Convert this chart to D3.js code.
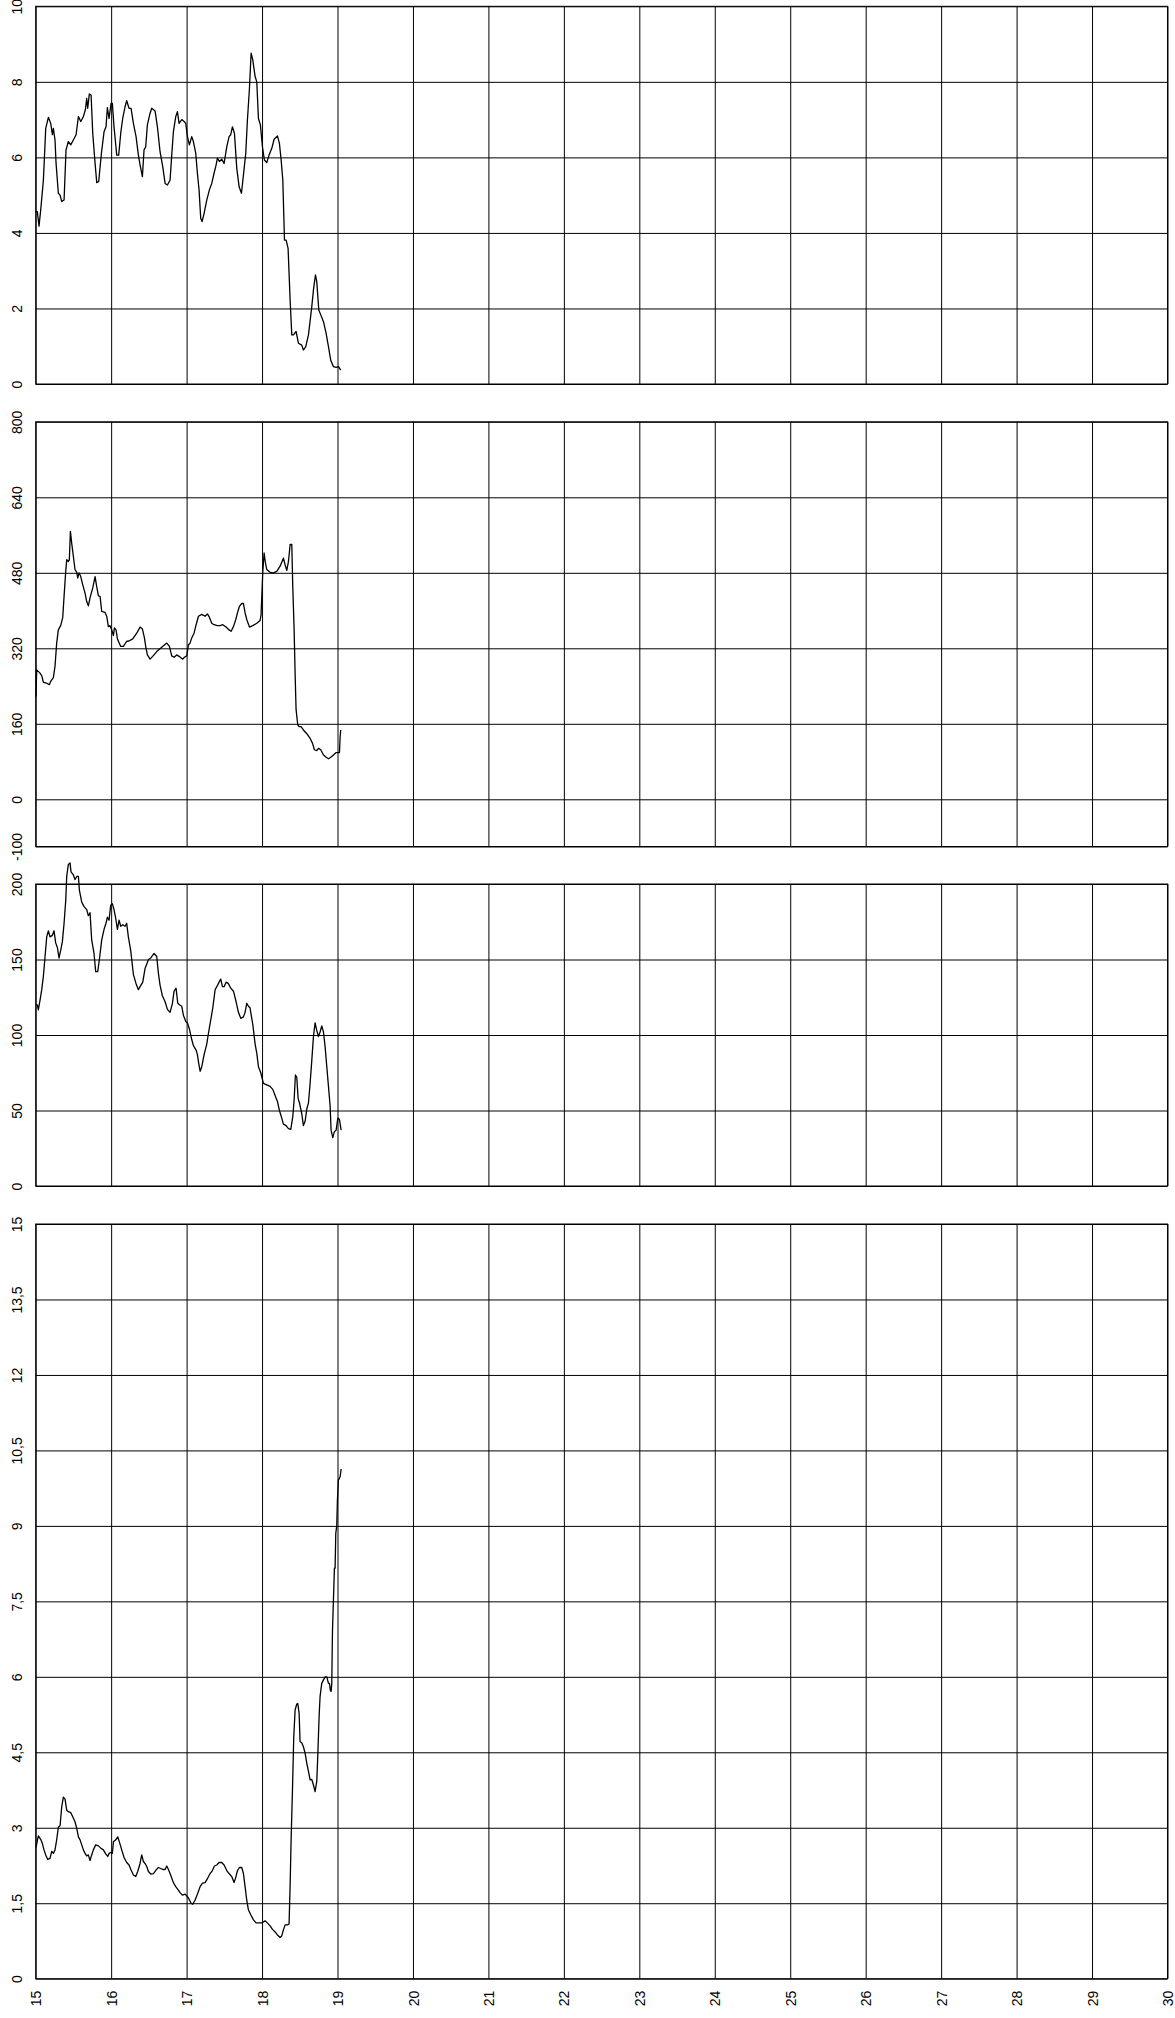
<!DOCTYPE html>
<html><head><meta charset="utf-8">
<script src="https://cdn.jsdelivr.net/npm/d3@7"></script>
<style>
body{margin:0;background:#fff}
svg{display:block}
text{font-family:"Liberation Sans",Arial,Helvetica,sans-serif;fill:#000}
</style>
</head><body>
<svg id="c" width="1175" height="2018"></svg>
<script>
// ---- tick labels ----
const xTicks = [15,16,17,18,19,20,21,22,23,24,25,26,27,28,29,30];
const ticks1 = [0,2,4,6,8,10];
const ticks2 = [-100,0,160,320,480,640,800];
const ticks3 = [0,50,100,150,200];
const ticks4 = [0,1.5,3,4.5,6,7.5,9,10.5,12,13.5,15];

// ---- series 1 ----
const x1 = [15.000,15.022,15.044,15.066,15.102,15.133,15.168,15.199,15.221,15.234,
15.256,15.270,15.300,15.323,15.345,15.376,15.402,15.433,15.464,15.499,
15.535,15.566,15.597,15.632,15.658,15.676,15.689,15.711,15.734,15.756,
15.787,15.809,15.835,15.871,15.906,15.932,15.950,15.972,15.999,16.016,
16.038,16.074,16.100,16.127,16.153,16.184,16.206,16.237,16.264,16.295,
16.330,16.361,16.383,16.414,16.436,16.458,16.480,16.516,16.538,16.582,
16.613,16.648,16.684,16.715,16.746,16.781,16.803,16.825,16.856,16.878,
16.900,16.936,16.967,16.989,17.011,17.037,17.068,17.090,17.121,17.143,
17.165,17.187,17.205,17.232,17.267,17.302,17.333,17.364,17.391,17.408,
17.435,17.466,17.497,17.532,17.563,17.585,17.607,17.634,17.665,17.696,
17.727,17.753,17.784,17.806,17.833,17.855,17.877,17.908,17.930,17.952,
17.978,18.005,18.031,18.062,18.093,18.129,18.160,18.204,18.230,18.253,
18.275,18.297,18.319,18.345,18.372,18.394,18.416,18.451,18.482,18.526,
18.548,18.579,18.615,18.659,18.681,18.708,18.725,18.752,18.778,18.814,
18.849,18.880,18.911,18.946,18.982,19.013,19.043];
const v1 = [4.56,4.56,4.18,4.6,5.4,6.77,7.06,6.9,6.6,6.77,
6.46,5.84,5.05,5.0,4.83,4.87,6.2,6.42,6.33,6.46,
6.6,7.08,6.95,7.08,7.26,7.56,7.3,7.68,7.65,6.64,
5.84,5.33,5.36,6.11,6.68,6.81,7.32,7.03,7.43,7.43,
6.81,6.06,6.06,6.64,7.03,7.34,7.5,7.3,7.3,6.9,
6.55,6.06,5.8,5.49,6.2,6.28,6.86,7.17,7.3,7.23,
6.81,6.15,5.75,5.31,5.27,5.4,6.06,6.68,7.08,7.21,
6.9,7.0,6.95,6.9,6.55,6.33,6.55,6.42,6.11,5.58,
5.14,4.39,4.3,4.52,4.87,5.14,5.31,5.58,5.8,5.98,
5.89,5.95,5.84,6.28,6.55,6.6,6.81,6.64,5.71,5.22,
5.05,5.53,6.11,6.99,7.83,8.76,8.58,8.14,8.0,7.03,
6.86,6.28,5.93,5.86,6.06,6.24,6.48,6.57,6.37,5.93,
5.4,3.81,3.81,3.59,2.22,1.3,1.3,1.39,1.08,1.03,
0.9,0.99,1.3,2.05,2.49,2.89,2.71,1.96,1.83,1.65,
1.34,0.99,0.62,0.46,0.44,0.46,0.37];

// ---- series 2 ----
const x2 = [15.004,15.013,15.049,15.080,15.102,15.146,15.181,15.199,15.234,15.256,
15.278,15.300,15.331,15.358,15.376,15.398,15.411,15.433,15.446,15.460,
15.477,15.499,15.521,15.544,15.557,15.574,15.597,15.623,15.654,15.676,
15.698,15.720,15.756,15.787,15.809,15.831,15.853,15.875,15.919,15.941,
15.963,15.985,16.008,16.030,16.043,16.065,16.083,16.105,16.127,16.162,
16.206,16.228,16.286,16.339,16.383,16.414,16.441,16.458,16.480,16.516,
16.551,16.604,16.670,16.737,16.772,16.803,16.834,16.869,16.900,16.949,
16.971,17.002,17.024,17.046,17.068,17.099,17.126,17.157,17.201,17.245,
17.276,17.302,17.333,17.364,17.408,17.444,17.479,17.523,17.563,17.590,
17.621,17.652,17.674,17.700,17.731,17.753,17.775,17.797,17.833,17.877,
17.930,17.974,17.987,18.009,18.027,18.045,18.062,18.106,18.151,18.195,
18.239,18.283,18.305,18.328,18.350,18.372,18.394,18.407,18.425,18.438,
18.451,18.473,18.491,18.517,18.548,18.593,18.637,18.668,18.694,18.725,
18.747,18.778,18.814,18.849,18.880,18.911,18.946,18.982,19.026,19.035,
19.043];
const v2 = [218,274,269,262,248,246,243,250,258,282,
331,359,368,385,430,483,508,504,508,568,
543,515,487,481,469,480,472,455,437,419,
410,427,448,472,450,431,430,398,396,388,
366,368,359,347,363,359,340,332,324,324,
335,335,340,352,365,361,342,324,306,297,
303,313,322,331,324,304,301,306,303,297,
301,304,327,331,342,352,370,388,392,388,
393,386,373,370,368,368,370,365,359,356,
366,381,395,409,415,415,395,381,365,368,
373,379,391,480,522,501,487,481,480,483,
494,511,497,485,504,540,540,451,359,267,
190,158,154,154,147,139,129,119,105,103,
108,105,94,89,86,89,94,99,99,133,
147];

// ---- series 3 ----
const x3 = [15.004,15.022,15.035,15.057,15.080,15.102,15.124,15.146,15.168,15.190,
15.221,15.243,15.265,15.287,15.309,15.331,15.354,15.376,15.398,15.411,
15.433,15.455,15.468,15.499,15.521,15.544,15.566,15.579,15.610,15.641,
15.676,15.698,15.720,15.742,15.773,15.795,15.822,15.844,15.875,15.906,
15.932,15.950,15.972,15.994,16.016,16.038,16.061,16.083,16.105,16.127,
16.153,16.184,16.206,16.228,16.259,16.295,16.330,16.361,16.383,16.419,
16.449,16.472,16.494,16.525,16.569,16.604,16.626,16.648,16.679,16.715,
16.746,16.781,16.812,16.834,16.860,16.883,16.905,16.936,16.958,16.989,
17.011,17.037,17.068,17.090,17.126,17.143,17.161,17.179,17.201,17.232,
17.267,17.289,17.320,17.347,17.378,17.400,17.431,17.453,17.475,17.497,
17.523,17.554,17.585,17.621,17.656,17.687,17.718,17.753,17.775,17.797,
17.819,17.841,17.850,17.877,17.908,17.930,17.952,17.983,18.018,18.062,
18.106,18.142,18.173,18.204,18.230,18.261,18.283,18.319,18.350,18.381,
18.407,18.425,18.442,18.460,18.478,18.496,18.526,18.548,18.571,18.593,
18.615,18.637,18.659,18.681,18.703,18.725,18.747,18.769,18.791,18.814,
18.836,18.858,18.880,18.902,18.915,18.937,18.959,18.982,19.004,19.026,
19.048];
const v3 = [120,120,116.6,123,130,139,152,165,169,165,
166,169,161,158,151,156,162,174,189,205,
213,214,208,206,203,205,205,196,188,185,
183,179,181,163,154,142,142,150,163,170,
174,178,176,186,187,183,177,170,176,172,
173,172,174,165,156,140,134,130,132,135,
144,147,150,151,154,152,141,133,126,122,
117,115,121,129,131,121,120,119,113,109,
108,104,97,93,90,87,81,76,79,87,
94,101,110,118,130,132,135,137,132,132,
135,134,131,129,122,115,111,112,115,121,
119,118,115,107,94,88,79,75,68,67,
66,64,60,56,50,45,41,40,38,37.5,
46,57,73.5,72,58,55,48,40,43,51,
55,68,83,99,108,103,99,102,106,102,
92,79,66,53,37,32,36,37,45,44,
37];

// ---- series 4 ----
const x4 = [15.004,15.035,15.066,15.088,15.110,15.133,15.159,15.190,15.212,15.234,
15.256,15.278,15.300,15.323,15.345,15.367,15.389,15.411,15.433,15.464,
15.491,15.521,15.544,15.566,15.588,15.610,15.632,15.654,15.676,15.698,
15.720,15.742,15.764,15.795,15.831,15.866,15.897,15.928,15.955,15.972,
15.999,16.016,16.030,16.061,16.087,16.109,16.140,16.171,16.206,16.237,
16.264,16.295,16.326,16.352,16.383,16.405,16.427,16.449,16.472,16.494,
16.525,16.560,16.595,16.626,16.657,16.692,16.715,16.737,16.759,16.781,
16.803,16.825,16.856,16.891,16.913,16.944,16.980,17.011,17.033,17.059,
17.081,17.112,17.148,17.179,17.210,17.245,17.280,17.311,17.342,17.369,
17.400,17.430,17.466,17.497,17.532,17.563,17.598,17.629,17.651,17.674,
17.700,17.731,17.753,17.775,17.797,17.819,17.850,17.886,17.921,17.952,
17.996,18.040,18.076,18.107,18.138,18.173,18.204,18.239,18.261,18.283,
18.305,18.336,18.358,18.372,18.385,18.403,18.420,18.438,18.460,18.473,
18.491,18.504,18.526,18.548,18.571,18.593,18.615,18.637,18.659,18.681,
18.703,18.725,18.738,18.756,18.769,18.791,18.814,18.836,18.858,18.880,
18.893,18.906,18.915,18.924,18.933,18.946,18.959,18.968,18.977,18.990,
18.999,19.012,19.026,19.035,19.048];
const v4 = [2.61,2.84,2.77,2.69,2.56,2.46,2.37,2.39,2.53,2.49,
2.56,2.76,3.01,3.04,3.42,3.61,3.57,3.35,3.32,3.30,
3.22,3.12,2.99,2.82,2.76,2.66,2.56,2.49,2.44,2.46,
2.35,2.46,2.56,2.66,2.64,2.59,2.56,2.48,2.43,2.49,
2.51,2.49,2.72,2.76,2.82,2.72,2.56,2.41,2.31,2.26,
2.16,2.06,2.03,2.13,2.29,2.46,2.33,2.29,2.23,2.13,
2.08,2.09,2.16,2.21,2.19,2.17,2.17,2.24,2.17,2.09,
2.0,1.91,1.83,1.76,1.71,1.66,1.68,1.63,1.58,1.5,
1.48,1.56,1.70,1.83,1.90,1.91,2.0,2.09,2.15,2.24,
2.26,2.31,2.31,2.26,2.15,2.09,2.03,1.91,2.01,2.15,
2.21,2.21,2.09,1.83,1.56,1.37,1.27,1.17,1.11,1.11,
1.11,1.15,1.10,1.05,0.98,0.93,0.87,0.82,0.85,0.97,
1.07,1.07,1.09,1.86,2.76,3.75,4.8,5.34,5.46,5.47,
5.28,4.71,4.69,4.61,4.48,4.28,4.12,3.95,3.96,3.85,
3.72,3.92,4.41,5.21,5.61,5.87,5.94,6.0,6.0,5.87,
5.87,5.73,5.71,5.87,6.9,7.53,8.16,8.16,8.85,9.0,
9.52,9.91,9.95,9.98,10.13];

const comma = d => String(d).replace(".", ",");

const panels = [
  {xs:x1, vs:v1, domain:[0,10],    top:6.3,   bottom:384,    ticks:ticks1, fmt:comma},
  {xs:x2, vs:v2, domain:[-100,800],top:421.8, bottom:846.5,  ticks:ticks2, fmt:comma},
  {xs:x3, vs:v3, domain:[0,200],   top:884,   bottom:1186,   ticks:ticks3, fmt:comma},
  {xs:x4, vs:v4, domain:[0,15],    top:1224,  bottom:1978.7, ticks:ticks4, fmt:comma}
];

const svg = d3.select("#c");
const x = d3.scaleLinear().domain([15,30]).range([35.7,1167.5]);
const W = x.range()[1] - x.range()[0];

panels.forEach((p, i) => {
  const y = d3.scaleLinear().domain(p.domain).range([p.bottom, p.top]);
  const H = p.bottom - p.top;

  // vertical grid
  const gx = svg.append("g").attr("transform", `translate(0,${p.bottom})`)
    .call(d3.axisBottom(x).tickValues(xTicks).tickSize(-H).tickFormat(d => d));
  gx.select(".domain").remove();
  gx.selectAll(".tick line").attr("stroke", "#000").attr("stroke-width", 1);
  if (i === panels.length - 1) {
    gx.selectAll(".tick text")
      .attr("font-size", 14)
      .attr("transform", "translate(0,12) rotate(-90)")
      .attr("x", 0).attr("y", 0).attr("dy", "0.36em")
      .attr("text-anchor", "end");
  } else {
    gx.selectAll(".tick text").remove();
  }

  // horizontal grid + labels
  const gy = svg.append("g").attr("transform", `translate(${x.range()[0]},0)`)
    .call(d3.axisLeft(y).tickValues(p.ticks).tickSize(-W).tickFormat(p.fmt));
  gy.select(".domain").remove();
  gy.selectAll(".tick line").attr("stroke", "#000").attr("stroke-width", 1);
  gy.selectAll(".tick text")
    .attr("font-size", 14)
    .attr("transform", "rotate(-90)")
    .attr("x", 0).attr("y", -14.2).attr("dy", 0)
    .attr("text-anchor", "middle");

  // frame
  svg.append("rect")
    .attr("x", x.range()[0]).attr("y", p.top)
    .attr("width", W).attr("height", H)
    .attr("fill", "none").attr("stroke", "#000").attr("stroke-width", 1);

  // data line
  const pts = d3.zip(p.xs, p.vs);
  svg.append("path")
    .datum(pts)
    .attr("fill", "none")
    .attr("stroke", "#000")
    .attr("stroke-width", 1.3)
    .attr("stroke-linejoin", "round")
    .attr("d", d3.line().x(d => x(d[0])).y(d => y(d[1])));
});
</script>
</body></html>
